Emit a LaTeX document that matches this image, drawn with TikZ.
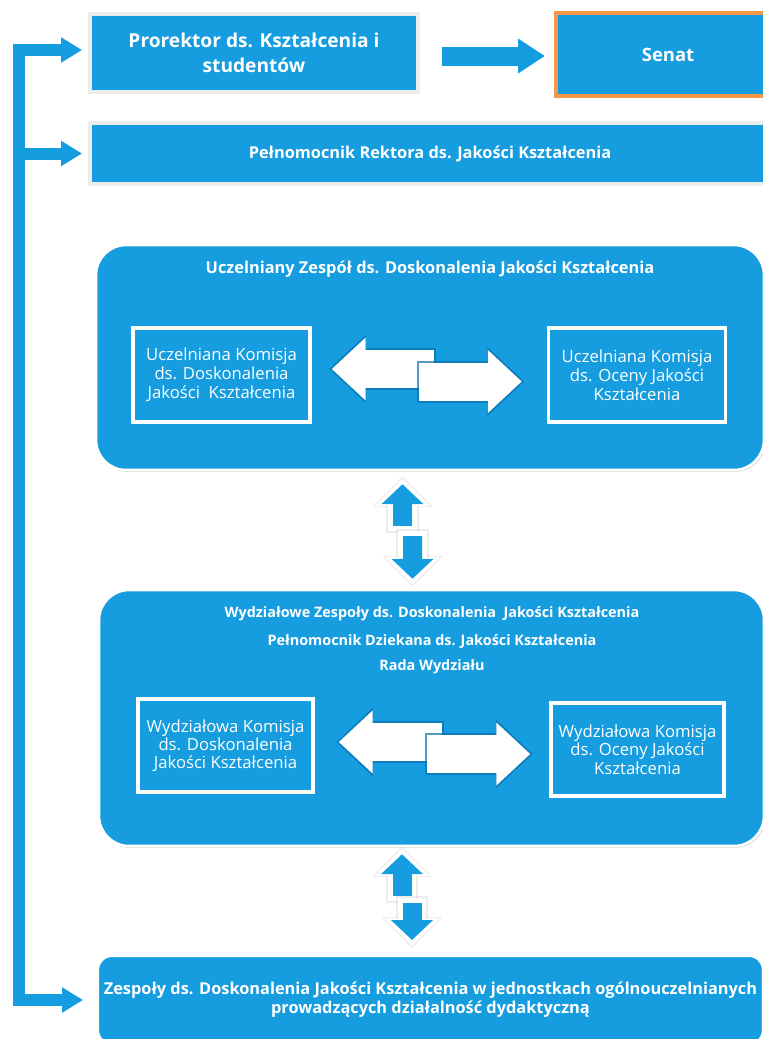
\documentclass[tikz,border=0pt]{standalone}
\usepackage{fontspec}
\setmainfont{Open Sans}
\usetikzlibrary{positioning, calc}
\usetikzlibrary{arrows.meta, shadows}

\definecolor{kblue}{RGB}{21,157,224}
\definecolor{kedge}{RGB}{236,236,236}
\definecolor{korange}{RGB}{247,150,70}
\definecolor{kdark}{RGB}{10,112,172}

\tikzset{
  topbox/.style={rectangle, fill=kblue, draw=kedge, line width=0.08cm, text=white, align=center, inner sep=0pt},
  groupbox/.style={rectangle, rounded corners=0.6cm, fill=kblue, draw=white, line width=0.05cm,
    drop shadow={opacity=0.25, shadow xshift=0.03cm, shadow yshift=-0.04cm}},
  grouptitle/.style={text=white, font=\bfseries\fontsize{9.3}{11}\selectfont},
  komisja/.style={rectangle, fill=kblue, draw=white, line width=0.07cm, text=white, align=center,
    inner sep=0pt, font=\fontsize{9.5}{10.8}\selectfont,
    drop shadow={opacity=0.3, shadow xshift=0.03cm, shadow yshift=-0.04cm}},
  spinebar/.style={kblue, line width=0.24cm, line join=miter},
  vshade/.style={black, opacity=0.07, line width=0.66cm, -{Triangle[length=0.62cm, width=1.18cm]},
    shorten >=-0.16cm, shorten <=-0.14cm},
  vout/.style={white, line width=0.58cm, -{Triangle[length=0.56cm, width=1.08cm]},
    shorten >=-0.12cm, shorten <=-0.1cm},
  vin/.style={kblue, line width=0.38cm, -{Triangle[length=0.4cm, width=0.82cm]}},
  wout/.style={kdark, opacity=0.7, line width=0.84cm, -{Triangle[length=0.74cm, width=1.34cm]},
    shorten >=-0.05cm, shorten <=-0.04cm},
  win/.style={white, line width=0.76cm, -{Triangle[length=0.68cm, width=1.22cm]}}
}

\begin{document}
\begin{tikzpicture}[x=0.02cm, y=-0.02cm]
\useasboundingbox (0,0) rectangle (763,1039);
\clip (0,0) rectangle (763,1039);

% top row
\node[topbox, minimum width=6.56cm, minimum height=1.56cm, font=\bfseries\fontsize{10.9}{14.2}\selectfont]
  (prorektor) at (254,53) {Prorektor ds. Kształcenia i\\studentów};
\node[topbox, draw=korange, minimum width=4.48cm, minimum height=1.66cm, font=\bfseries\fontsize{10.5}{13}\selectfont]
  (senat) at (668,54.5) {Senat};
\node[topbox, minimum width=13.6cm, minimum height=1.22cm, font=\bfseries\fontsize{9.3}{12}\selectfont]
  (pelnomocnik) at (430,153.5) {Pełnomocnik Rektora ds. Jakości Kształcenia};

% uczelniany zespol
\node[groupbox, minimum width=13.36cm, minimum height=4.5cm] (zespol) at (430,357.5) {};
\node[grouptitle] (zespolt) at (430,269) {Uczelniany Zespół ds. Doskonalenia Jakości Kształcenia};
\node[komisja, minimum width=3.54cm, minimum height=1.88cm] (ukd) at (221.5,375)
  {Uczelniana Komisja\\ds. Doskonalenia\\Jakości~~Kształcenia};
\node[komisja, minimum width=3.54cm, minimum height=1.88cm] (uko) at (637,375)
  {Uczelniana Komisja\\ds. Oceny Jakości\\Kształcenia};

% wydzialowe zespoly
\node[groupbox, minimum width=13.3cm, minimum height=5.12cm] (wydz) at (431.5,718) {};
\node[grouptitle, font=\bfseries\fontsize{8.2}{10}\selectfont] (wydzt1) at (432,614)
  {Wydziałowe Zespoły ds. Doskonalenia~~Jakości Kształcenia};
\node[grouptitle, font=\bfseries\fontsize{8.2}{10}\selectfont] (wydzt2) at (432,641)
  {Pełnomocnik Dziekana ds. Jakości Kształcenia};
\node[grouptitle, font=\bfseries\fontsize{8.2}{10}\selectfont] (wydzt3) at (432,667) {Rada Wydziału};
\node[komisja, minimum width=3.5cm, minimum height=1.86cm, font=\fontsize{9.5}{10.4}\selectfont] (wkd) at (225.5,745.5)
  {Wydziałowa Komisja\\ds. Doskonalenia\\Jakości Kształcenia};
\node[komisja, minimum width=3.46cm, minimum height=1.86cm, font=\fontsize{9.5}{10.4}\selectfont] (wko) at (637.5,749.5)
  {Wydziałowa Komisja\\ds. Oceny Jakości\\Kształcenia};

% jednostki ogolnouczelniane
\node[topbox, draw=white, rounded corners=0.3cm, minimum width=13.34cm, minimum height=1.8cm,
  font=\bfseries\fontsize{9.3}{10.8}\selectfont] (jedn) at (430.5,1000)
  {Zespoły ds. Doskonalenia Jakości Kształcenia w jednostkach ogólnouczelnianych\\prowadzących działalność dydaktyczną};

% lewa szyna ze strzalkami
\coordinate (spine) at (19,0);
\draw[spinebar, {Triangle[length=0.42cm, width=0.48cm]}-{Triangle[length=0.42cm, width=0.48cm]}]
  ([shift={(-6,-3)}]prorektor.west) -| (spine |- jedn.west) -- ([shift={(-12,0)}]jedn.west);
\draw[spinebar, -{Triangle[length=0.42cm, width=0.48cm]}]
  (spine |- pelnomocnik.west) -- ([shift={(-6,0)}]pelnomocnik.west);

% prorektor -> senat
\draw[kblue, line width=0.38cm, -{Triangle[length=0.54cm, width=0.66cm]}]
  ([shift={(22,3)}]prorektor.east) -- ([shift={(-9,3)}]prorektor.east -| senat.west);

% strzalki pionowe
\coordinate (u1a) at ([shift={(-29,-63)}]wydz.north);
\coordinate (u1b) at ([shift={(-27.5,13)}]zespol.south);
\coordinate (d1a) at ([shift={(-17.5,65)}]zespol.south);
\coordinate (d1b) at ([shift={(-19,-10)}]wydz.north);
\coordinate (u2a) at ([shift={(-28.5,-57)}]jedn.north);
\coordinate (u2b) at ([shift={(-29.5,7)}]wydz.south);
\coordinate (d2a) at ([shift={(-19.5,56)}]wydz.south);
\coordinate (d2b) at ([shift={(-18.5,-13)}]jedn.north);
\foreach \a/\b in {u1a/u1b, d1a/d1b, u2a/u2b, d2a/d2b} {
  \draw[vshade] (\a) -- (\b);
  \draw[vout] (\a) -- (\b);
  \draw[vin] (\a) -- (\b);
}

% biale strzalki miedzy komisjami
\coordinate (l1a) at ([shift={(122,-6)}]ukd.east);
\coordinate (l1b) at ([shift={(20,-6)}]ukd.east);
\coordinate (r1a) at ([shift={(-128,6.5)}]uko.west);
\coordinate (r1b) at ([shift={(-25,6.5)}]uko.west);
\coordinate (l2a) at ([shift={(127,-3.5)}]wkd.east);
\coordinate (l2b) at ([shift={(24,-3.5)}]wkd.east);
\coordinate (r2a) at ([shift={(-122,4.5)}]wko.west);
\coordinate (r2b) at ([shift={(-19,4.5)}]wko.west);
\foreach \a/\b in {l1a/l1b, r1a/r1b, l2a/l2b, r2a/r2b} {
  \draw[wout] (\a) -- (\b);
  \draw[win] (\a) -- (\b);
}
\end{tikzpicture}
\end{document}
